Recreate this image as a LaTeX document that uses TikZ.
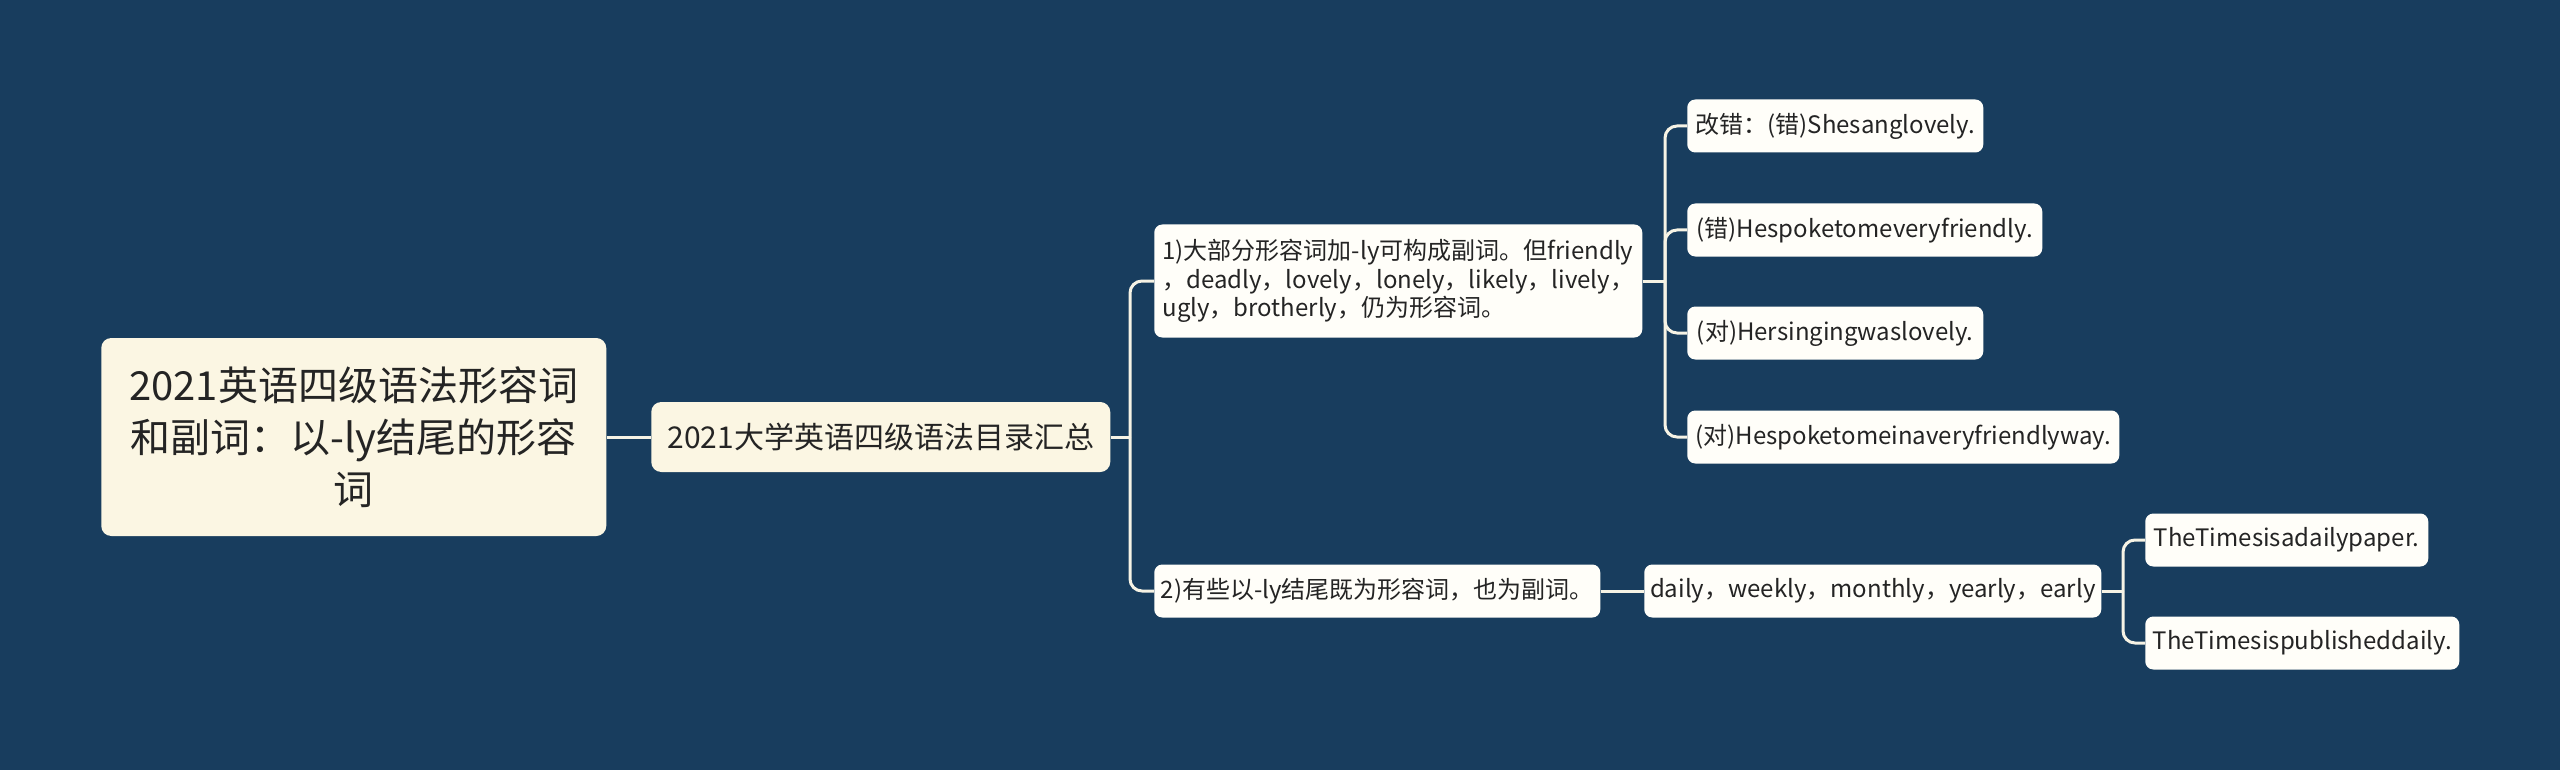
\documentclass[tikz,border=0pt]{standalone}
\usepackage{fontspec}
\setmainfont{Noto Sans CJK SC}
\definecolor{bgblue}{RGB}{24,61,94}
\definecolor{cream}{RGB}{251,246,227}
\definecolor{paper}{RGB}{255,254,249}
\definecolor{ink}{RGB}{36,36,36}
\definecolor{wire}{RGB}{246,243,229}

\tikzstyle{topic} = [fill=cream, text=ink, rounded corners=7.5pt, anchor=west, align=center, inner sep=0pt]
\tikzstyle{leaf} = [fill=paper, text=ink, rounded corners=6pt, anchor=west, inner sep=0pt, minimum height=39.75pt, font=\fontsize{18}{21.2}\selectfont]
\tikzstyle{link} = [draw=wire, line width=2.25pt, rounded corners=9pt]

\begin{document}
\begin{tikzpicture}[x=0.75pt, y=-0.75pt]
\fill[bgblue] (0,0) rectangle (2560,770);

% main topic and first level
\node[topic, minimum width=378.75pt, minimum height=148.5pt,
    font=\fontsize{30}{39}\selectfont] (root) at (101,437)
    {2021英语四级语法形容词\\和副词：以-ly结尾的形容\\词};
\node[topic, minimum width=344.25pt, minimum height=52.5pt,
    font=\fontsize{22.5}{27}\selectfont] (summary) at (651,437)
    {2021大学英语四级语法目录汇总};

% second level
\node[leaf, minimum width=366pt, minimum height=84.75pt, align=left] (most) at (1154,281)
    {1)大部分形容词加-ly可构成副词。但friendly\\，deadly，lovely，lonely，likely，lively，\\ugly，brotherly，仍为形容词。};
\node[leaf, minimum width=334.5pt] (some) at (1154,591)
    {2)有些以-ly结尾既为形容词，也为副词。};

% examples
\node[leaf, minimum width=222pt] (wrong1) at (1687,126) {改错：(错)Shesanglovely.};
\node[leaf, minimum width=266.25pt] (wrong2) at (1687,230) {(错)Hespoketomeveryfriendly.};
\node[leaf, minimum width=222pt] (right1) at (1687,333) {(对)Hersingingwaslovely.};
\node[leaf, minimum width=324pt] (right2) at (1687,437) {(对)Hespoketomeinaveryfriendlyway.};

\node[leaf, minimum width=342.75pt] (words) at (1644,591)
    {daily，weekly，monthly，yearly，early};
\node[leaf, minimum width=212.25pt] (paper) at (2145,540) {TheTimesisadailypaper.};
\node[leaf, minimum width=235.5pt] (daily) at (2145,643) {TheTimesispublisheddaily.};

% connectors
\coordinate (j1) at (1130,437);
\coordinate (j2) at (1665,281);
\coordinate (j3) at (2123,591);

\draw[link] (root.east) -- (summary.west);
\draw[link] (summary.east) -- (j1);
\draw[link] (j1) |- (most.west);
\draw[link] (j1) |- (some.west);

\draw[link] (most.east) -- (j2);
\foreach \n in {wrong1, wrong2, right1, right2}
    \draw[link] (j2) |- (\n.west);

\draw[link] (some.east) -- (words.west);
\draw[link] (words.east) -- (j3);
\draw[link] (j3) |- (paper.west);
\draw[link] (j3) |- (daily.west);
\end{tikzpicture}
\end{document}
